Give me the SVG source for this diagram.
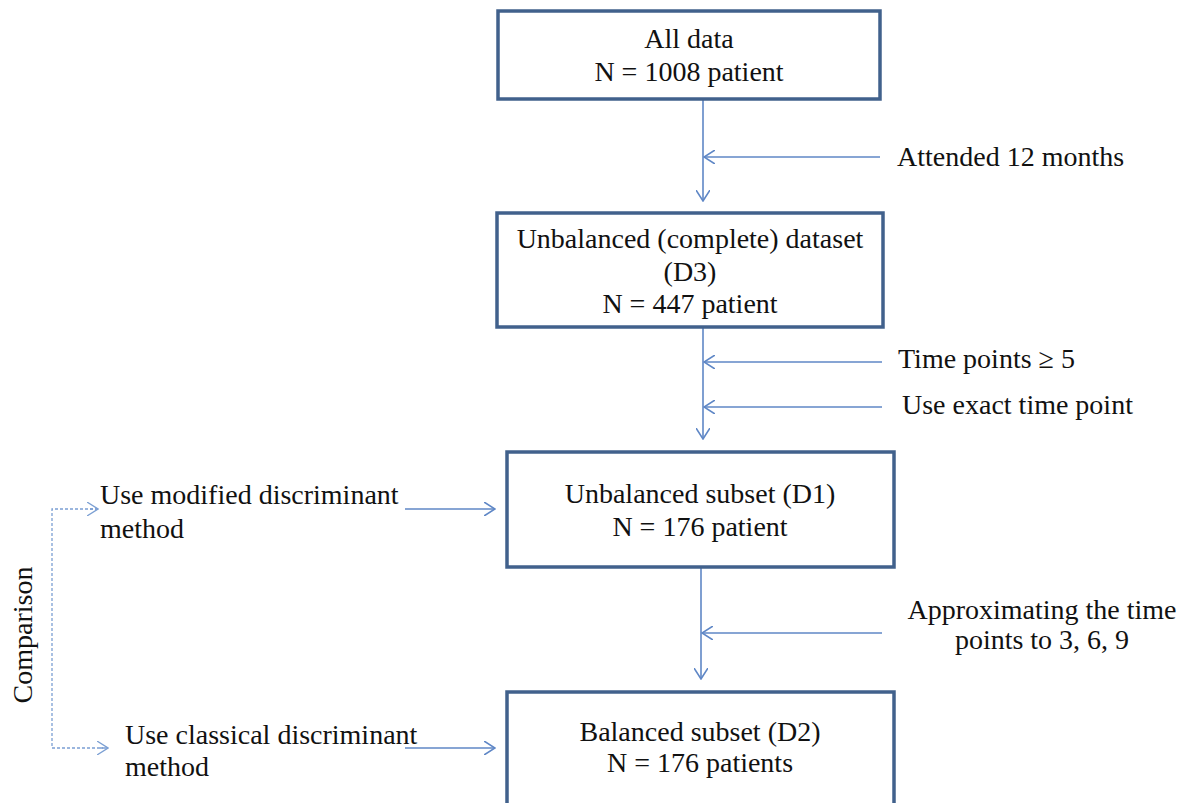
<svg xmlns="http://www.w3.org/2000/svg" width="1195" height="803" viewBox="0 0 1195 803">
<style>
.box{fill:#fff;stroke:#41618c;stroke-width:3.5}
.t{font-family:"Liberation Serif","Times New Roman",serif;font-size:28px;fill:#111}
.c{text-anchor:middle}
.ln{fill:none;stroke:#5f87c6;stroke-width:1.6}
.dash{fill:none;stroke:#7b9fd3;stroke-width:1.3;stroke-dasharray:3,2}
</style>
<defs>
<marker id="arr" viewBox="0 0 12 14" refX="11" refY="7" markerWidth="12" markerHeight="14" orient="auto" markerUnits="userSpaceOnUse">
<path d="M0,0 L11,7 L0,14" fill="none" stroke="#5f87c6" stroke-width="1.6"/>
</marker>
<marker id="arrd" viewBox="0 0 12 14" refX="11" refY="7" markerWidth="12" markerHeight="14" orient="auto" markerUnits="userSpaceOnUse">
<path d="M0,0 L11,7 L0,14" fill="none" stroke="#7b9fd3" stroke-width="1.3"/>
</marker>
</defs>
<rect width="1195" height="803" fill="#fff"/>
<g id="connectors">
<line class="ln" x1="703" y1="100" x2="703" y2="201" marker-end="url(#arr)"/>
<line class="ln" x1="880" y1="157" x2="704" y2="157" marker-end="url(#arr)"/>
<line class="ln" x1="703" y1="328" x2="703" y2="439" marker-end="url(#arr)"/>
<line class="ln" x1="882" y1="362" x2="704" y2="362" marker-end="url(#arr)"/>
<line class="ln" x1="882" y1="407" x2="704" y2="407" marker-end="url(#arr)"/>
<line class="ln" x1="701" y1="568" x2="701" y2="679" marker-end="url(#arr)"/>
<line class="ln" x1="882" y1="633" x2="702" y2="633" marker-end="url(#arr)"/>
<line class="ln" x1="405" y1="509" x2="495" y2="509" marker-end="url(#arr)"/>
<line class="ln" x1="405" y1="748" x2="495" y2="748" marker-end="url(#arr)"/>
<path class="dash" d="M98,509 L52,509 L52,748 L108,748"/>
<line class="dash" x1="90" y1="509" x2="98" y2="509" marker-end="url(#arrd)"/>
<line class="dash" x1="100" y1="748" x2="108" y2="748" marker-end="url(#arrd)"/>
</g>
<g id="all-data">
<rect class="box" x="498" y="11" width="382" height="88"/>
<text class="t c" x="689" y="48">All data</text>
<text class="t c" x="689" y="81">N = 1008 patient</text>
</g>
<g id="d3">
<rect class="box" x="497" y="213" width="386" height="114"/>
<text class="t c" x="690" y="248">Unbalanced (complete) dataset</text>
<text class="t c" x="690" y="281">(D3)</text>
<text class="t c" x="690" y="313">N = 447 patient</text>
</g>
<g id="d1">
<rect class="box" x="507" y="452" width="387" height="115"/>
<text class="t c" x="700" y="503">Unbalanced subset (D1)</text>
<text class="t c" x="700" y="536">N = 176 patient</text>
</g>
<g id="d2">
<rect class="box" x="507" y="692" width="387" height="120"/>
<text class="t c" x="700" y="741">Balanced subset (D2)</text>
<text class="t c" x="700" y="772">N = 176 patients</text>
</g>
<g id="labels">
<text class="t" x="897" y="166">Attended 12 months</text>
<text class="t" x="898" y="368">Time points ≥ 5</text>
<text class="t" x="902" y="414">Use exact time point</text>
<text class="t c" x="1042" y="619">Approximating the time</text>
<text class="t c" x="1042" y="649">points to 3, 6, 9</text>
<text class="t" x="100" y="504">Use modified discriminant</text>
<text class="t" x="100" y="538">method</text>
<text class="t" x="125" y="744">Use classical discriminant</text>
<text class="t" x="125" y="776">method</text>
<text class="t c" transform="translate(32,635) rotate(-90)">Comparison</text>
</g>
</svg>
